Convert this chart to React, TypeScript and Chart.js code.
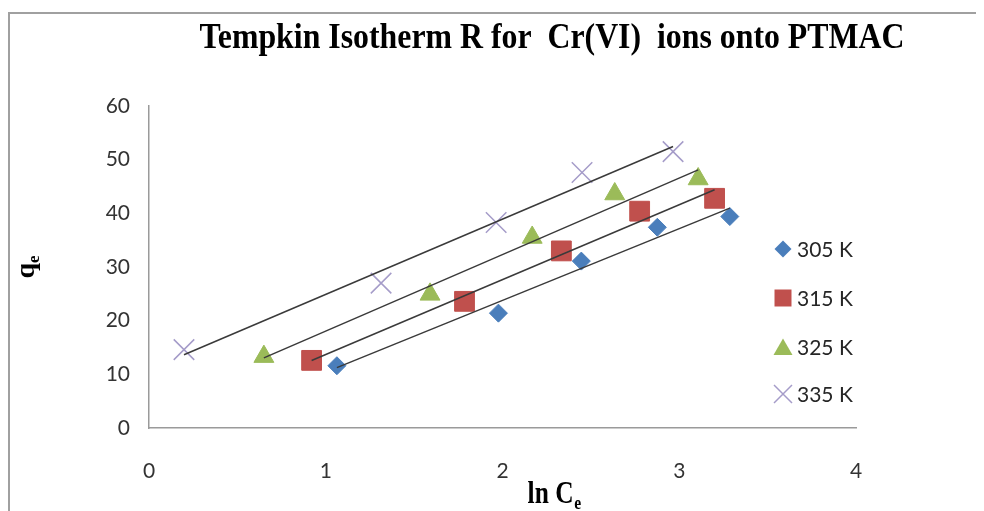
import React, { useEffect, useRef } from 'react';
import { Chart, registerables } from 'chart.js';

Chart.register(...registerables);

const TITLE = 'Tempkin Isotherm R for  Cr(VI)  ions onto PTMAC';
const seriesLabels = ['305 K', '315 K', '325 K', '335 K'];

const x305 = [1.063, 1.977, 2.446, 2.876, 3.286];
const y305 = [11.6, 21.4, 31.1, 37.4, 39.4];
const x315 = [0.92, 1.785, 2.333, 2.776, 3.2];
const y315 = [12.6, 23.6, 33.0, 40.4, 42.8];
const x325 = [0.65, 1.59, 2.168, 2.635, 3.107];
const y325 = [13.3, 24.9, 35.5, 43.6, 46.4];
const x335 = [0.198, 1.313, 1.964, 2.45, 2.965];
const y335 = [14.6, 27.0, 38.3, 47.6, 51.5];

const xTickValues = [0, 1, 2, 3, 4];
const yTickValues = [0, 10, 20, 30, 40, 50, 60];

const seriesX = [x305, x315, x325, x335];
const seriesY = [y305, y315, y325, y335];
const colors = ['#4a7ebb', '#c0504d', '#9bbb59', '#a59cc9'];
const styles = ['rectRot', 'rect', 'triangle', 'crossRot'];
const radii = [9, 14, 11.5, 14.5];

function fitLine(xs: number[], ys: number[]) {
  const n = xs.length;
  const mx = xs.reduce((a, b) => a + b, 0) / n;
  const my = ys.reduce((a, b) => a + b, 0) / n;
  let sxy = 0, sxx = 0;
  for (let i = 0; i < n; i++) {
    sxy += (xs[i] - mx) * (ys[i] - my);
    sxx += (xs[i] - mx) * (xs[i] - mx);
  }
  const m = sxy / sxx;
  const b = my - m * mx;
  const x0 = Math.min(...xs);
  const x1 = Math.max(...xs);
  return [{ x: x0, y: m * x0 + b }, { x: x1, y: m * x1 + b }];
}

function drawMarker(ctx: CanvasRenderingContext2D, i: number, x: number, y: number) {
  ctx.save();
  ctx.fillStyle = colors[i];
  ctx.strokeStyle = colors[i];
  ctx.beginPath();
  if (i === 0) {
    const r = 8.5;
    ctx.moveTo(x, y - r); ctx.lineTo(x + r, y); ctx.lineTo(x, y + r); ctx.lineTo(x - r, y); ctx.closePath();
    ctx.fill();
  } else if (i === 1) {
    const h = 8.5;
    ctx.rect(x - h, y - h, 2 * h, 2 * h);
    ctx.fill();
  } else if (i === 2) {
    ctx.moveTo(x, y - 8.5); ctx.lineTo(x + 9.5, y + 8); ctx.lineTo(x - 9.5, y + 8); ctx.closePath();
    ctx.fill();
  } else {
    const h = 9;
    ctx.lineWidth = 1.5;
    ctx.moveTo(x - h, y - h); ctx.lineTo(x + h, y + h);
    ctx.moveTo(x + h, y - h); ctx.lineTo(x - h, y + h);
    ctx.stroke();
  }
  ctx.restore();
}

const overlay = {
  id: 'overlay',
  beforeDraw(chart: any) {
    const ctx: CanvasRenderingContext2D = chart.ctx;
    ctx.save();
    ctx.strokeStyle = '#a0a0a0';
    ctx.lineWidth = 2;
    ctx.beginPath();
    ctx.moveTo(1, chart.height + 10);
    ctx.lineTo(1, 5);
    ctx.lineTo(chart.width + 20, 5);
    ctx.stroke();
    ctx.restore();
  },
  afterDraw(chart: any) {
    const ctx: CanvasRenderingContext2D = chart.ctx;
    const ca = chart.chartArea;
    // title
    ctx.save();
    ctx.fillStyle = '#000';
    ctx.font = 'bold 35px "Liberation Serif"';
    ctx.textAlign = 'left';
    ctx.textBaseline = 'alphabetic';
    const tw = ctx.measureText(TITLE).width;
    const target = 705;
    ctx.translate(544 - target / 2, 40);
    ctx.scale(target / tw, 1);
    ctx.fillText(TITLE, 0, 0);
    ctx.restore();

    // x axis title
    ctx.save();
    ctx.fillStyle = '#000';
    ctx.textBaseline = 'alphabetic';
    ctx.font = 'bold 31px "Liberation Serif"';
    const main = 'ln C';
    const mw = ctx.measureText(main).width;
    ctx.font = 'bold 19px "Liberation Serif"';
    const sw = ctx.measureText('e').width;
    const sxk = 0.82;
    const total = (mw + sw) * sxk;
    ctx.translate(546 - total / 2, 495);
    ctx.scale(sxk, 1);
    ctx.font = 'bold 31px "Liberation Serif"';
    ctx.fillText(main, 0, 0);
    ctx.font = 'bold 19px "Liberation Serif"';
    ctx.fillText('e', mw + 1, 6);
    ctx.restore();

    // y axis title
    ctx.save();
    ctx.fillStyle = '#000';
    ctx.textBaseline = 'alphabetic';
    ctx.font = 'bold 28px "Liberation Serif"';
    const qw = ctx.measureText('q').width;
    ctx.font = 'bold 17px "Liberation Serif"';
    const ew = ctx.measureText('e').width;
    const tot = qw + ew;
    ctx.translate(26, (ca.top + ca.bottom) / 2 + tot / 2);
    ctx.rotate(-Math.PI / 2);
    ctx.font = 'bold 28px "Liberation Serif"';
    ctx.fillText('q', 0, 0);
    ctx.font = 'bold 17px "Liberation Serif"';
    ctx.fillText('e', qw, 5);
    ctx.restore();

    // legend
    const rowsY = [241, 290, 339, 386];
    ctx.save();
    ctx.font = '21px Lato';
    ctx.fillStyle = '#262626';
    ctx.textBaseline = 'middle';
    ctx.textAlign = 'left';
    for (let i = 0; i < seriesLabels.length; i++) {
      drawMarker(ctx, i, 775, rowsY[i]);
      ctx.fillText(seriesLabels[i], 789, rowsY[i] + 1);
    }
    ctx.restore();
  },
};

export default function App() {
  const ref = useRef<HTMLCanvasElement | null>(null);

  useEffect(() => {
    document.documentElement.style.overflow = 'hidden';
    document.body.style.overflow = 'hidden';
    if (!ref.current) return;
    const markerSets = seriesLabels.map((label, i) => ({
      type: 'scatter' as const,
      label,
      data: seriesX[i].map((x, j) => ({ x, y: seriesY[i][j] })),
      pointStyle: styles[i] as any,
      pointRadius: radii[i],
      pointHoverRadius: radii[i],
      backgroundColor: colors[i],
      borderColor: colors[i],
      pointBorderWidth: i === 3 ? 1.5 : 1,
      showLine: false,
      order: 1,
    }));
    const trendSets = seriesLabels.map((label, i) => ({
      type: 'line' as const,
      label: label + ' trend',
      data: fitLine(seriesX[i], seriesY[i]),
      borderColor: '#3a3a3a',
      borderWidth: 1.5,
      pointRadius: 0,
      fill: false,
      tension: 0,
      order: 0,
    }));
    const chart = new Chart(ref.current, {
      type: 'scatter',
      data: { datasets: [...trendSets, ...markerSets] as any },
      options: {
        responsive: false,
        animation: false,
        layout: { padding: { top: 98, right: 128, left: 0, bottom: 0 } },
        plugins: { legend: { display: false }, title: { display: false }, tooltip: { enabled: false } },
        scales: {
          x: {
            type: 'linear',
            min: 0,
            max: 4,
            afterBuildTicks: (s: any) => { s.ticks = xTickValues.map((v) => ({ value: v })); },
            afterFit: (s: any) => { s.height = 83; },
            grid: { display: false, drawTicks: false },
            border: { display: true, color: '#9a9a9a', width: 1.5 },
            ticks: { padding: 31, color: '#333333', font: { family: 'Lato', size: 21 } },
          },
          y: {
            type: 'linear',
            min: 0,
            max: 60,
            afterBuildTicks: (s: any) => { s.ticks = yTickValues.map((v) => ({ value: v })); },
            afterFit: (s: any) => { s.width = 141; },
            grid: { display: false, drawTicks: false },
            border: { display: true, color: '#9a9a9a', width: 1.5 },
            ticks: { padding: 19, color: '#333333', font: { family: 'Lato', size: 21 } },
          },
        },
      },
      plugins: [overlay],
    });
    return () => chart.destroy();
  }, []);

  return (
    <div style={{ position: 'relative', width: 976, height: 503, overflow: 'hidden' }}>
      <canvas ref={ref} width={976} height={503} style={{ display: 'block' }} />
    </div>
  );
}
